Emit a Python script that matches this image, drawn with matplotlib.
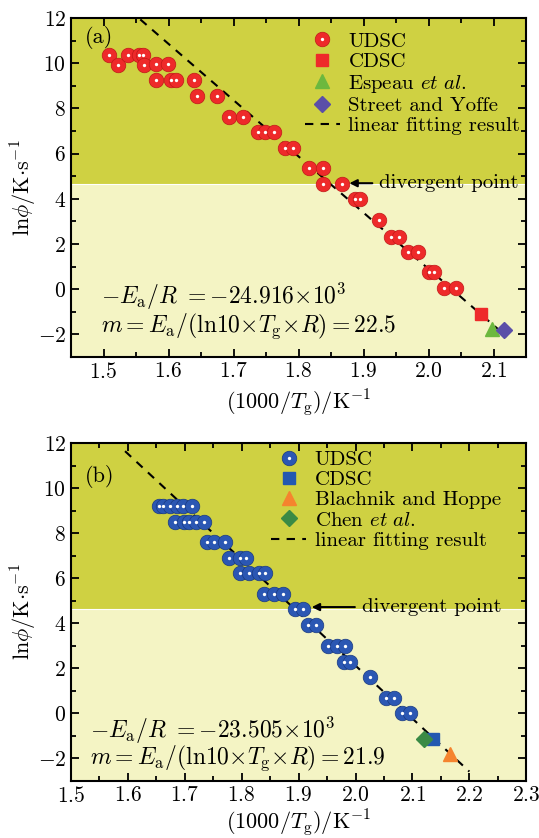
import matplotlib
matplotlib.use('Agg')
from matplotlib import pyplot as plt
from matplotlib.lines import Line2D
from matplotlib.legend_handler import HandlerTuple
from matplotlib.ticker import MultipleLocator

plt.rcParams['font.family'] = ['cmr10', 'DejaVu Serif']
plt.rcParams['mathtext.fontset'] = 'cm'
plt.rcParams['axes.formatter.use_mathtext'] = True

# panel (a)
udsc_a_x = [1.509, 1.522, 1.538, 1.555, 1.561, 1.562, 1.580, 1.599, 1.580, 1.603,
            1.611, 1.639, 1.643, 1.675, 1.693, 1.714, 1.738, 1.748, 1.762, 1.779,
            1.791, 1.816, 1.838, 1.837, 1.866, 1.886, 1.894, 1.924, 1.942, 1.954,
            1.968, 1.984, 2.001, 2.008, 2.024, 2.042]
udsc_a_y = [10.35, 9.92, 10.36, 10.38, 10.38, 9.92, 9.95, 9.95, 9.27, 9.27,
            9.27, 9.27, 8.56, 8.56, 7.64, 7.64, 6.95, 6.97, 6.97, 6.27,
            6.27, 5.35, 5.36, 4.66, 4.66, 3.98, 3.98, 3.04, 2.33, 2.33,
            1.66, 1.66, 0.76, 0.76, 0.07, 0.07]
cdsc_a = (2.080, -1.10)
espeau = (2.097, -1.78)
street = (2.116, -1.80)
fit_a = (-24.916, 50.72)
fit_a_x = [1.50, 2.12]

# panel (b)
udsc_b_x = [1.654, 1.662, 1.674, 1.686, 1.696, 1.712,
            1.683, 1.699, 1.707, 1.719, 1.734,
            1.739, 1.752, 1.771,
            1.778, 1.797, 1.808,
            1.797, 1.813, 1.831, 1.841,
            1.839, 1.856, 1.872,
            1.894, 1.908, 1.917, 1.931,
            1.952, 1.967, 1.981, 1.979, 1.991,
            2.026, 2.054, 2.067, 2.081, 2.095]
udsc_b_y = [9.20, 9.20, 9.20, 9.20, 9.20, 9.20,
            8.50, 8.50, 8.50, 8.50, 8.50,
            7.60, 7.60, 7.60,
            6.92, 6.92, 6.92,
            6.22, 6.22, 6.22, 6.22,
            5.30, 5.30, 5.30,
            4.62, 4.62, 3.92, 3.92,
            2.98, 2.98, 2.98, 2.30, 2.30,
            1.60, 0.70, 0.70, 0.00, 0.00]
cdsc_b = (2.136, -1.12)
blachnik = (2.166, -1.79)
chen = (2.121, -1.12)
fit_b = (-23.505, 49.13)
fit_b_x = [1.595, 2.20]

dark_bg = '#cfd142'
light_bg = '#f4f4c4'
split = 4.65


def sphere(ax, x, y, c, ec):
    ax.plot(x, y, 'o', ms=10.5, mfc=c, mec=ec, mew=0.5, ls='none', zorder=4)
    ax.plot(x, y, 'o', ms=2.4, mfc='white', mec='none', ls='none', zorder=6)
    h1 = Line2D([], [], marker='o', ms=10.5, mfc=c, mec=ec, mew=0.5, ls='none')
    h2 = Line2D([], [], marker='o', ms=2.4, mfc='white', mec='none', ls='none')
    return (h1, h2)


def style(ax, xlim, xmaj, xlab_y):
    ax.set_xlim(*xlim)
    ax.set_ylim(-3, 12)
    ax.axhspan(split, 12, color=dark_bg, zorder=0, lw=0)
    ax.axhspan(-3, split, color=light_bg, zorder=0, lw=0)
    ax.axhline(split, color='white', lw=0.8, zorder=1)
    ax.xaxis.set_major_locator(MultipleLocator(xmaj))
    ax.xaxis.set_minor_locator(MultipleLocator(0.05))
    ax.yaxis.set_major_locator(MultipleLocator(2))
    ax.yaxis.set_minor_locator(MultipleLocator(1))
    ax.tick_params(which='both', direction='in', top=True, right=True, labelsize=15.5, width=1.3)
    ax.tick_params(which='major', length=6)
    ax.tick_params(which='minor', length=3.5)
    for s in ax.spines.values():
        s.set_linewidth(1.5)
    ax.set_ylabel(r'$\mathrm{ln}\phi/\mathrm{K{\cdot}s}^{-1}$', fontsize=16)
    ax.set_xlabel(r'$(1000/T_\mathrm{g})/\mathrm{K}^{-1}$', fontsize=16)
    ax.yaxis.set_label_coords(-0.07, 0.5)
    ax.xaxis.set_label_coords(0.5, xlab_y)


fig = plt.figure(figsize=(5.39, 8.38), dpi=100)
ax1 = fig.add_axes([0.1317, 0.574, 0.8447, 0.4045])
ax2 = fig.add_axes([0.1317, 0.068, 0.8447, 0.4033])
tup = {tuple: HandlerTuple(ndivide=1)}

# ---- (a)
style(ax1, (1.45, 2.15), 0.1, -0.09)
h_u = sphere(ax1, udsc_a_x, udsc_a_y, '#ee2a2a', '#c01818')
xs = fit_a_x
ax1.plot(xs, [fit_a[0] * v + fit_a[1] for v in xs], color='k', lw=1.5,
         ls=(0, (4, 3.5)), zorder=3)
ax1.plot(*cdsc_a, 's', ms=9, color='#ee2a2a', zorder=7)
ax1.plot(*espeau, '^', ms=10, color='#6cb83e', zorder=7)
ax1.plot(*street, 'D', ms=8.5, color='#5b4fa8', zorder=7)
handles = [h_u,
           Line2D([], [], marker='s', ms=9, color='#ee2a2a', ls='none'),
           Line2D([], [], marker='^', ms=10, color='#6cb83e', ls='none'),
           Line2D([], [], marker='D', ms=8.5, color='#5b4fa8', ls='none'),
           Line2D([], [], color='k', lw=1.5, ls=(0, (4, 3.5)))]
labels = ['UDSC', 'CDSC', r'Espeau $et\ al.$', 'Street and Yoffe', 'linear fitting result']
ax1.legend(handles, labels, loc='upper right', bbox_to_anchor=(1.003, 0.98), frameon=False,
           fontsize=15, handlelength=1.7, handletextpad=0.4, labelspacing=0.08,
           borderpad=0.2, borderaxespad=0.15, handler_map=tup)
ax1.text(0.03, 0.975, '(a)', transform=ax1.transAxes, fontsize=16, va='top')
ax1.annotate('divergent point', xy=(1.878, 4.69), xytext=(1.924, 4.69),
             fontsize=15, va='center',
             arrowprops=dict(arrowstyle='-|>', color='k', lw=1.5, mutation_scale=11,
                             shrinkA=3, shrinkB=0))
ax1.text(0.067, 0.178, r'$-E_\mathrm{a}/R\ =-24.916{\times}10^3$', transform=ax1.transAxes,
         fontsize=17, va='center')
ax1.text(0.067, 0.09, r'$m=E_\mathrm{a}/(\mathrm{ln10}{\times}T_\mathrm{g}{\times}R)=22.5$',
         transform=ax1.transAxes, fontsize=17, va='center')

# ---- (b)
style(ax2, (1.5, 2.3), 0.1, -0.078)
h_u = sphere(ax2, udsc_b_x, udsc_b_y, '#2b57b3', '#1a3a80')
xs = fit_b_x
ax2.plot(xs, [fit_b[0] * v + fit_b[1] for v in xs], color='k', lw=1.5,
         ls=(0, (4, 3.5)), zorder=3)
ax2.plot(*cdsc_b, 's', ms=9, color='#2358b0', zorder=7)
ax2.plot(*blachnik, '^', ms=10, color='#f5842e', zorder=7)
ax2.plot(*chen, 'D', ms=8.5, color='#3a8a45', zorder=8)
handles = [h_u,
           Line2D([], [], marker='s', ms=9, color='#2358b0', ls='none'),
           Line2D([], [], marker='^', ms=10, color='#f5842e', ls='none'),
           Line2D([], [], marker='D', ms=8.5, color='#3a8a45', ls='none'),
           Line2D([], [], color='k', lw=1.5, ls=(0, (4, 3.5)))]
labels = ['UDSC', 'CDSC', 'Blachnik and Hoppe', r'Chen $et\ al.$', 'linear fitting result']
ax2.legend(handles, labels, loc='upper right', bbox_to_anchor=(0.96, 1.0), frameon=False,
           fontsize=15, handlelength=1.7, handletextpad=0.4, labelspacing=0.08,
           borderpad=0.2, borderaxespad=0.15, handler_map=tup)
ax2.text(0.03, 0.935, '(b)', transform=ax2.transAxes, fontsize=16, va='top')
ax2.annotate('divergent point', xy=(1.923, 4.72), xytext=(2.011, 4.72),
             fontsize=15, va='center',
             arrowprops=dict(arrowstyle='-|>', color='k', lw=1.5, mutation_scale=11,
                             shrinkA=3, shrinkB=0))
ax2.text(0.042, 0.15, r'$-E_\mathrm{a}/R\ =-23.505{\times}10^3$', transform=ax2.transAxes,
         fontsize=17, va='center')
ax2.text(0.042, 0.068, r'$m=E_\mathrm{a}/(\mathrm{ln10}{\times}T_\mathrm{g}{\times}R)=21.9$',
         transform=ax2.transAxes, fontsize=17, va='center')

fig.savefig('out.png', dpi=100)
